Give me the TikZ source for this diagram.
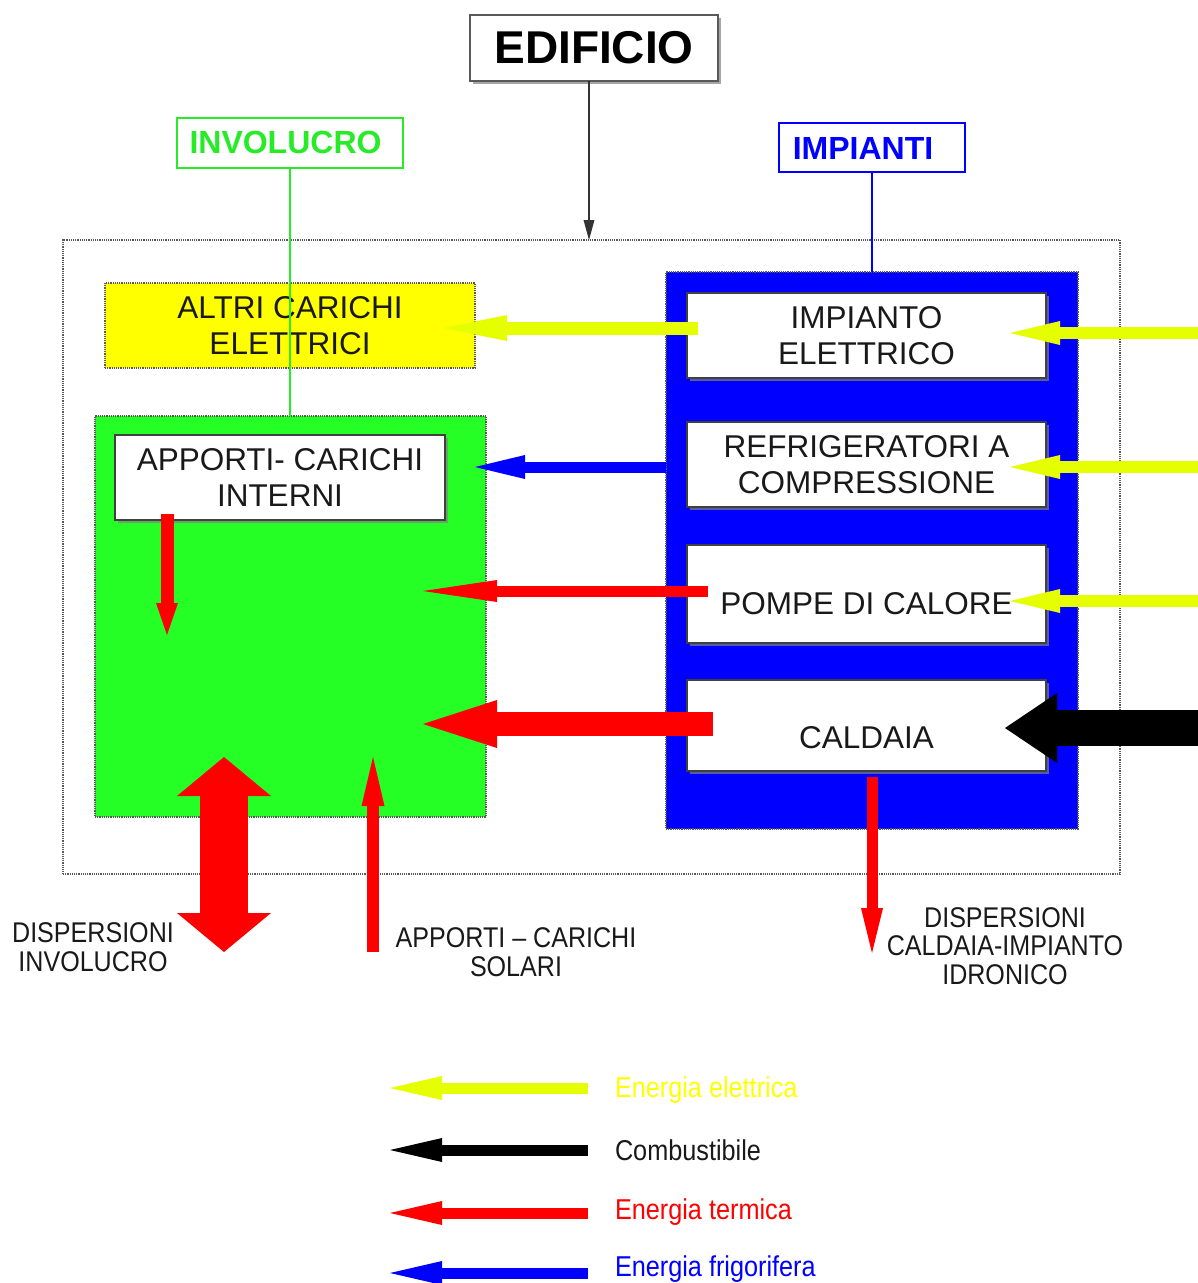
\documentclass[tikz,border=0pt]{standalone}
\usepackage{fontspec}
\setmainfont{Liberation Sans}
\newfontfamily\narrowfont[FakeStretch=0.88,Ligatures=TeX]{Liberation Sans}
\usetikzlibrary{arrows.meta,shadows}

\definecolor{elyel}{RGB}{230,255,0}
\definecolor{boxyel}{RGB}{255,255,0}
\definecolor{envgreen}{RGB}{38,255,38}
\definecolor{labgreen}{RGB}{40,235,40}
\definecolor{pblue}{RGB}{0,0,255}
\definecolor{hred}{RGB}{255,0,0}

\begin{document}
\begin{tikzpicture}[x=1pt,y=-1pt,
  every node/.style={inner sep=0pt, outer sep=0pt},
  txt/.style={font=\fontsize{31.5}{36}\selectfont, align=center, text=black!90},
  region/.style={draw=black!65, densely dotted, line width=1.2pt},
  unit/.style={draw=black!75, line width=1.3pt, fill=white,
    drop shadow={shadow xshift=2.5pt, shadow yshift=-2.5pt, fill=black!50, opacity=0.7}},
  tag/.style={line width=1.4pt, fill=white, font=\fontsize{32}{36}\selectfont\bfseries},
  note/.style={font=\narrowfont\fontsize{28.5}{28.5}\selectfont, align=center, text=black!90},
  legtext/.style={font=\narrowfont\fontsize{28.7}{30}\selectfont, anchor=west},
  flow/.style n args={3}{line width=#1, -{Triangle[length=#2, width=#3, line width=0pt]}},
  twoway/.style n args={3}{line width=#1,
    {Triangle[length=#2, width=#3, line width=0pt]}-{Triangle[length=#2, width=#3, line width=0pt]}},
]
\useasboundingbox (0,0) rectangle (1198,1283);

% building boundary
\node[region, minimum width=1057pt, minimum height=634pt] (building) at (591.5,557) {};

% headings
\node[unit, draw=black!65, line width=1.5pt, minimum width=248pt, minimum height=66pt,
  font=\fontsize{46}{50}\selectfont\bfseries] (edificio) at (594,48) {EDIFICIO};
\node[tag, draw=labgreen, text=labgreen, minimum width=226pt, minimum height=50pt] (involucro) at (290,143) {};
\node[font=\fontsize{32}{36}\selectfont\bfseries, text=labgreen] (involucroT) at (285.5,142) {INVOLUCRO};
\node[tag, draw=pblue, text=pblue, minimum width=186pt, minimum height=49pt] (impianti) at (872,147.5) {};
\node[font=\fontsize{32}{36}\selectfont\bfseries, text=pblue] (impiantiT) at (863,148) {IMPIANTI};

% envelope side
\node[region, fill=boxyel, minimum width=370pt, minimum height=85pt, txt] (altri) at (290,325.5)
  {ALTRI CARICHI\\ELETTRICI};
\node[region, fill=envgreen, minimum width=391pt, minimum height=401pt] (envelope) at (290.5,616.5) {};
\node[unit, txt, minimum width=330pt, minimum height=85pt] (interni) at (280,477.5)
  {APPORTI- CARICHI\\INTERNI};

% plant side
\node[region, fill=pblue, minimum width=412pt, minimum height=557pt] (plant) at (872,550.5) {};
\node[unit, txt, minimum width=359pt, minimum height=85pt] (elettrico) at (866.5,335.5)
  {IMPIANTO\\ELETTRICO};
\node[unit, txt, minimum width=359pt, minimum height=85pt] (frigo) at (866.5,464.5)
  {REFRIGERATORI A\\COMPRESSIONE};
\node[unit, minimum width=359pt, minimum height=98pt] (pompe) at (866.5,594) {};
\node[txt] (pompeT) at (866.5,604) {POMPE DI CALORE};
\node[unit, minimum width=359pt, minimum height=91pt] (caldaia) at (866.5,725.5) {};
\node[txt] (caldaiaT) at (866.5,738) {CALDAIA};

% heading connectors
\coordinate (bldtop) at (589,240);
\draw[black!80, line width=1.3pt, -{Triangle[length=20pt, width=11pt, line width=0pt]}]
  (edificio.south -| bldtop) -- (bldtop);
\draw[labgreen, line width=1.3pt] (involucro.south) -- (involucro.south |- envelope.north);
\draw[pblue, line width=1.3pt] (impianti.south) -- (impianti.south |- plant.north);

% free ends of the flows
\coordinate (eIn) at (698,328);   \coordinate (eOut) at (443,328);
\coordinate (g1a) at (1198,333);  \coordinate (g1b) at (1010,333);
\coordinate (g2a) at (1198,467);  \coordinate (g2b) at (1010,467);
\coordinate (g3a) at (1198,601);  \coordinate (g3b) at (1010,601);
\coordinate (fa) at (1198,728);   \coordinate (fb) at (1005,728);
\coordinate (cIn) at (666,467);   \coordinate (cOut) at (475,467);
\coordinate (hpIn) at (708,591);  \coordinate (hpOut) at (423,591);
\coordinate (bIn) at (713,724);   \coordinate (bOut) at (423,724);
\coordinate (iA) at (167,514);    \coordinate (iB) at (167,635);
\coordinate (dA) at (224,757);    \coordinate (dB) at (224,952);
\coordinate (sA) at (373,952);    \coordinate (sB) at (373,757);
\coordinate (kA) at (872,777);    \coordinate (kB) at (872,953);

% electricity
\draw[elyel, flow={13pt}{64pt}{26pt}] (eIn) -- (eOut);
\draw[elyel, flow={12pt}{50pt}{24pt}] (g1a) -- (g1b);
\draw[elyel, flow={12pt}{50pt}{24pt}] (g2a) -- (g2b);
\draw[elyel, flow={12pt}{50pt}{24pt}] (g3a) -- (g3b);
% fuel
\draw[black, flow={36pt}{52pt}{70pt}] (fa) -- (fb);
% cooling
\draw[pblue, flow={11pt}{50pt}{24pt}] (cIn) -- (cOut);
% heat
\draw[hred, flow={11pt}{74pt}{22pt}] (hpIn) -- (hpOut);
\draw[hred, flow={24pt}{74pt}{48pt}] (bIn) -- (bOut);
\draw[hred, flow={13pt}{32pt}{22pt}] (iA) -- (iB);
\draw[hred, twoway={48pt}{39pt}{94pt}] (dA) -- (dB);
\draw[hred, flow={12pt}{49pt}{23pt}] (sA) -- (sB);
\draw[hred, flow={11pt}{45pt}{22pt}] (kA) -- (kB);

% captions
\node[note] (dispInv) at (93,947) {DISPERSIONI\\INVOLUCRO};
\node[note] (solari) at (516,952) {APPORTI – CARICHI\\SOLARI};
\node[note] (dispCald) at (1005,946) {DISPERSIONI\\CALDAIA-IMPIANTO\\IDRONICO};

% legend
\node[legtext, text=boxyel] (leg1) at (615,1090) {Energia elettrica};
\node[legtext, text=black!90] (leg2) at (615,1150) {Combustibile};
\node[legtext, text=hred] (leg3) at (615,1212) {Energia termica};
\node[legtext, text=pblue] (leg4) at (615,1269) {Energia frigorifera};
\coordinate (l1a) at (588,1088); \coordinate (l1b) at (390,1088);
\coordinate (l2a) at (588,1150); \coordinate (l2b) at (390,1150);
\coordinate (l3a) at (588,1213); \coordinate (l3b) at (390,1213);
\coordinate (l4a) at (588,1273); \coordinate (l4b) at (390,1273);
\draw[elyel, flow={11pt}{52pt}{24pt}] (l1a) -- (l1b);
\draw[black, flow={11pt}{52pt}{24pt}] (l2a) -- (l2b);
\draw[hred, flow={11pt}{52pt}{24pt}] (l3a) -- (l3b);
\draw[pblue, flow={11pt}{52pt}{24pt}] (l4a) -- (l4b);
\end{tikzpicture}
\end{document}
